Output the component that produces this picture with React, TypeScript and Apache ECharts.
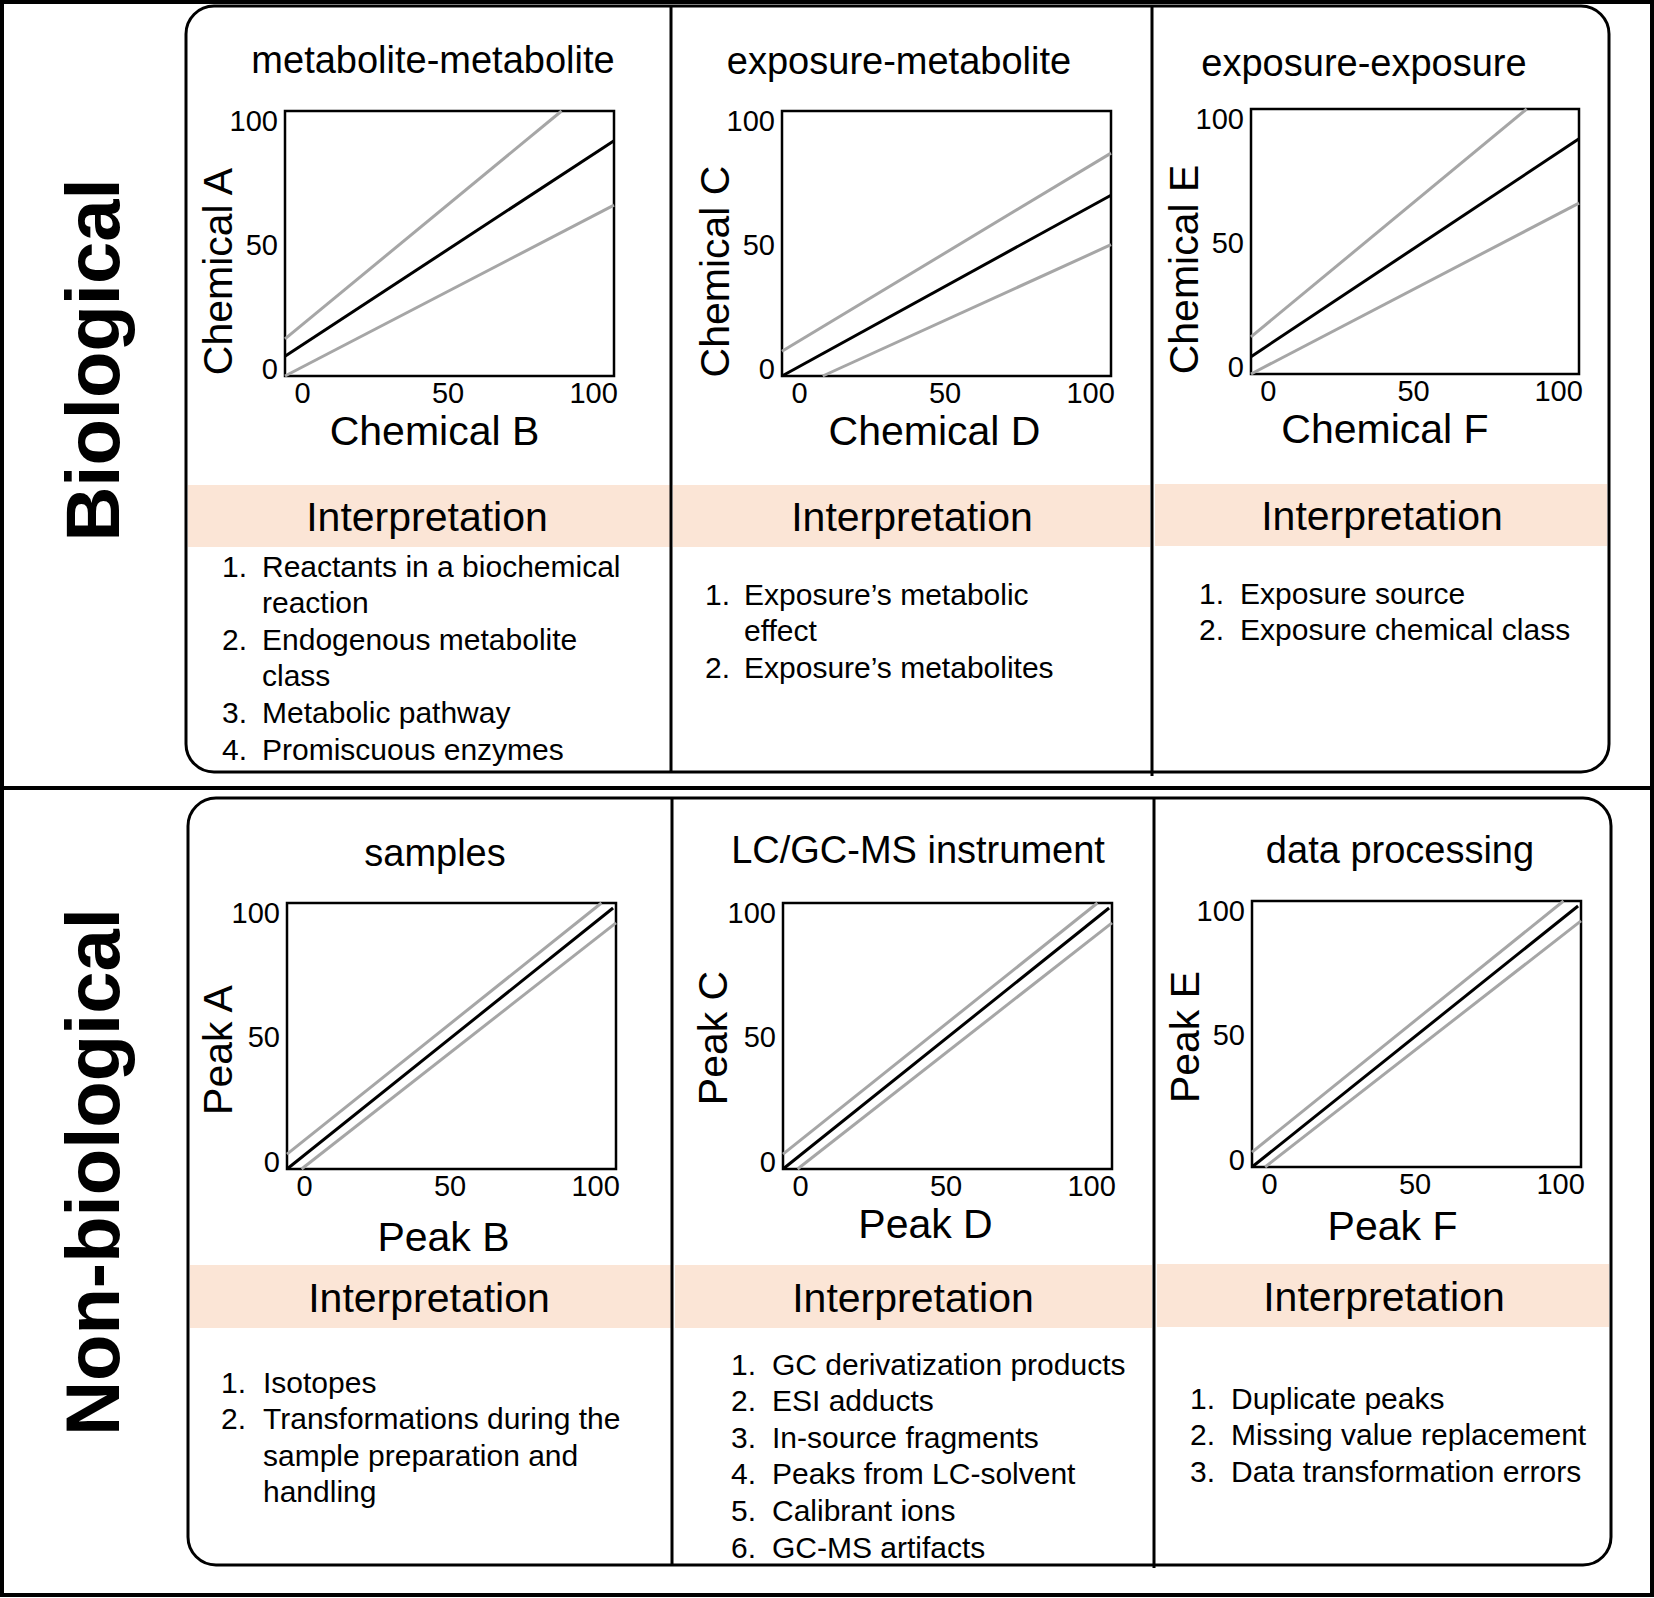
import React, { useEffect, useRef } from "react";
import * as echarts from "echarts";

// ---------------- data ----------------
const rowLabels = ["Biological", "Non-biological"];
const panelTitles = [
  "metabolite-metabolite",
  "exposure-metabolite",
  "exposure-exposure",
  "samples",
  "LC/GC-MS instrument",
  "data processing",
];
const xAxisNames = ["Chemical B", "Chemical D", "Chemical F", "Peak B", "Peak D", "Peak F"];
const yAxisNames = ["Chemical A", "Chemical C", "Chemical E", "Peak A", "Peak C", "Peak E"];
const tickValues = [0, 50, 100];
const headerText = "Interpretation";

// line end points [x, y] for each panel
const centerLine = [
  [[-6, 5], [107, 92]],
  [[-6, -3], [107, 70]],
  [[-6, 4], [107, 92]],
  [[-6, -3], [106, 102]],
  [[-6, -3], [106, 102]],
  [[-6, -3], [106, 102]],
];
const upperLine = [
  [[-6, 12], [89, 104]],
  [[-6, 7], [107, 87]],
  [[-6, 12], [89, 104]],
  [[-6, 3], [102, 104]],
  [[-6, 3], [102, 104]],
  [[-6, 3], [101, 104]],
];
const lowerLine = [
  [[-6, -3], [107, 66]],
  [[8, -3], [107, 50]],
  [[-6, -3], [107, 66]],
  [[-1, -3], [107, 96]],
  [[-1, -3], [107, 96]],
  [[-1.5, -3], [107, 96]],
];

const interp1 = [
  ["Reactants in a biochemical", "reaction"],
  ["Endogenous metabolite", "class"],
  ["Metabolic pathway"],
  ["Promiscuous enzymes"],
];
const interp2 = [["Exposure’s metabolic", "effect"], ["Exposure’s metabolites"]];
const interp3 = [["Exposure source"], ["Exposure chemical class"]];
const interp4 = [["Isotopes"], ["Transformations during the", "sample preparation and", "handling"]];
const interp5 = [
  ["GC derivatization products"],
  ["ESI adducts"],
  ["In-source fragments"],
  ["Peaks from LC-solvent"],
  ["Calibrant ions"],
  ["GC-MS artifacts"],
];
const interp6 = [["Duplicate peaks"], ["Missing value replacement"], ["Data transformation errors"]];
const interpretations = [interp1, interp2, interp3, interp4, interp5, interp6];

// ---------------- layout ----------------
const W = 1654;
const H = 1598;
const FONT = '"Liberation Sans", Arial, Helvetica, sans-serif';
const GRAY = "#a6a6a6";
const PEACH = "#fbe5d6";

const grids = [
  { left: 285, top: 111, width: 329, height: 265 },
  { left: 782, top: 111, width: 329, height: 265 },
  { left: 1251, top: 109, width: 328, height: 265 },
  { left: 287, top: 903, width: 329, height: 266 },
  { left: 783, top: 903, width: 329, height: 266 },
  { left: 1252, top: 901, width: 329, height: 266 },
];
const xRange = [-6, 107];
const yRange = [-3, 104];
const NAME_LH = 34;
const xNameGap = [38, 38, 38, 51, 38, 42];
const xNameShift = [-15, -12, -30, -8, -22, -24];
const yNameGap = [50, 50, 50, 52, 53, 50];
const yNameShift = [28, 28, 28, 14, 2, 3];

const titlePos = [
  [433, 60], [899, 61], [1364, 63],
  [435, 853], [918, 850], [1400, 850],
];
const headerPos = [
  [427, 517], [912, 517], [1382, 516],
  [429, 1298], [913, 1298], [1384, 1297],
];
const bands = [
  [188, 485, 482, 62], [673, 485, 477, 62], [1155, 484, 452, 62],
  [190, 1265, 481, 63], [675, 1265, 477, 63], [1157, 1264, 452, 63],
];
const listNumX = [222, 705, 1199, 221, 731, 1190];
const listTextX = [262, 744, 1240, 263, 772, 1231];
const listStartY = [566, 594, 593, 1382, 1364, 1398];
const LINE_STEP = 36.6;

function txt(text: string, x: number, y: number, size: number, opts: any = {}) {
  const align = opts.align || "center";
  return {
    type: "text",
    x,
    y,
    rotation: opts.rotation || 0,
    z: 10,
    silent: true,
    style: {
      text,
      fill: "#000",
      fontSize: size,
      fontFamily: FONT,
      fontWeight: opts.bold ? "bold" : "normal",
      align,
      verticalAlign: "middle",
      textAlign: align,
      textVerticalAlign: "middle",
    },
  };
}

function buildOption() {
  const graphic: any[] = [];
  // peach bands
  bands.forEach((b) =>
    graphic.push({
      type: "rect",
      z: 1,
      silent: true,
      shape: { x: b[0], y: b[1], width: b[2], height: b[3] },
      style: { fill: PEACH },
    })
  );
  // outer frame and separator
  graphic.push({
    type: "rect", z: 5, silent: true,
    shape: { x: 2, y: 2, width: W - 4, height: H - 5 },
    style: { fill: "none", stroke: "#000", lineWidth: 4 },
  });
  graphic.push({
    type: "line", z: 5, silent: true,
    shape: { x1: 0, y1: 788, x2: W, y2: 788 },
    style: { stroke: "#000", lineWidth: 4 },
  });
  // rounded panel boxes
  graphic.push({
    type: "rect", z: 5, silent: true,
    shape: { x: 186, y: 6, width: 1423, height: 766, r: 28 },
    style: { fill: "none", stroke: "#000", lineWidth: 3 },
  });
  graphic.push({
    type: "rect", z: 5, silent: true,
    shape: { x: 188, y: 798, width: 1423, height: 767, r: 28 },
    style: { fill: "none", stroke: "#000", lineWidth: 3 },
  });
  // column dividers
  const dividers = [
    [671, 6, 772], [1152, 6, 776], [672, 798, 1565], [1154, 798, 1568],
  ];
  dividers.forEach((d) =>
    graphic.push({
      type: "line", z: 5, silent: true,
      shape: { x1: d[0], y1: d[1], x2: d[0], y2: d[2] },
      style: { stroke: "#000", lineWidth: 3 },
    })
  );
  // row labels
  graphic.push(txt(rowLabels[0], 92, 360, 76, { bold: true, rotation: Math.PI / 2 }));
  graphic.push(txt(rowLabels[1], 92, 1172, 76, { bold: true, rotation: Math.PI / 2 }));
  // titles, headers, lists
  for (let i = 0; i < 6; i++) {
    graphic.push(txt(panelTitles[i], titlePos[i][0], titlePos[i][1], 38));
    graphic.push(txt(headerText, headerPos[i][0], headerPos[i][1], 41));
    let row = 0;
    interpretations[i].forEach((item, k) => {
      item.forEach((line, j) => {
        const y = listStartY[i] + row * LINE_STEP;
        if (j === 0) graphic.push(txt(`${k + 1}.`, listNumX[i], y, 30, { align: "left" }));
        graphic.push(txt(line, listTextX[i], y, 30, { align: "left" }));
        row++;
      });
    });
  }

  const pad = (s: number) => (s < 0 ? [0, -2 * s, 0, 0] : [0, 0, 0, 2 * s]);
  const padDown = (s: number) => (s > 0 ? [0, 2 * s, 0, 0] : [0, 0, 0, -2 * s]);

  const tickLabel = {
    customValues: tickValues,
    fontSize: 29,
    lineHeight: 24,
    color: "#000",
    fontFamily: FONT,
  };

  const xAxis = grids.map((_, i) => ({
    type: "value",
    gridIndex: i,
    min: xRange[0],
    max: xRange[1],
    axisLine: { show: false },
    axisTick: { show: false },
    splitLine: { show: false },
    axisLabel: { ...tickLabel, margin: 5 },
    name: xAxisNames[i],
    nameLocation: "middle",
    nameGap: xNameGap[i],
    nameMoveOverlap: false,
    nameTextStyle: {
      fontSize: 41,
      lineHeight: NAME_LH,
      color: "#000",
      fontFamily: FONT,
      padding: pad(xNameShift[i]),
    },
  }));
  const yAxis = grids.map((_, i) => ({
    type: "value",
    gridIndex: i,
    min: yRange[0],
    max: yRange[1],
    axisLine: { show: false },
    axisTick: { show: false },
    splitLine: { show: false },
    axisLabel: { ...tickLabel, margin: 7 },
    name: yAxisNames[i],
    nameLocation: "middle",
    nameGap: yNameGap[i],
    nameMoveOverlap: false,
    nameTextStyle: {
      fontSize: 41,
      lineHeight: NAME_LH,
      color: "#000",
      fontFamily: FONT,
      padding: padDown(yNameShift[i]),
    },
  }));

  const series: any[] = [];
  for (let i = 0; i < 6; i++) {
    const common = {
      type: "line",
      xAxisIndex: i,
      yAxisIndex: i,
      symbol: "none",
      silent: true,
    };
    series.push({ ...common, name: `upper ${i + 1}`, data: upperLine[i], lineStyle: { color: GRAY, width: 3 }, z: 2 });
    series.push({ ...common, name: `lower ${i + 1}`, data: lowerLine[i], lineStyle: { color: GRAY, width: 3 }, z: 2 });
    series.push({ ...common, name: `center ${i + 1}`, data: centerLine[i], lineStyle: { color: "#000", width: 3 }, z: 3 });
  }

  return {
    animation: false,
    backgroundColor: "#ffffff",
    textStyle: { fontFamily: FONT },
    grid: grids.map((g) => ({
      ...g,
      show: true,
      borderColor: "#000",
      borderWidth: 2.5,
      backgroundColor: "rgba(0,0,0,0)",
      containLabel: false,
    })),
    xAxis,
    yAxis,
    series,
    graphic: { elements: graphic },
  };
}

export default function App() {
  const ref = useRef<HTMLDivElement>(null);
  useEffect(() => {
    if (!ref.current) return;
    const chart = echarts.init(ref.current, undefined, { renderer: "svg", width: W, height: H });
    chart.setOption(buildOption() as any);
    return () => chart.dispose();
  }, []);
  return (
    <div
      ref={ref}
      style={{ position: "fixed", left: 0, top: 0, width: W, height: H, background: "#fff" }}
    />
  );
}
